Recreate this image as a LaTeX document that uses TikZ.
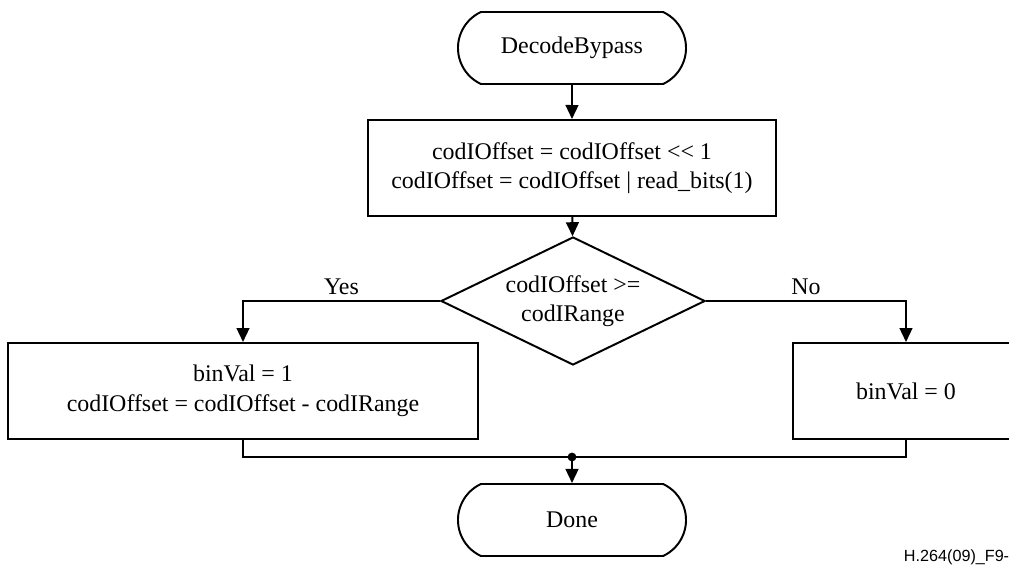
\documentclass[tikz,border=0pt]{standalone}
\usepackage{fontspec}
\setmainfont{Liberation Serif}
\newfontfamily\figfont{Liberation Sans}
\usepackage{tikz}
\usetikzlibrary{shapes.geometric, shapes.misc, arrows.meta, positioning}

\tikzset{
	terminal/.style={draw, rounded rectangle, rounded rectangle arc length=130, minimum width=5.7cm, minimum height=1.8cm, inner sep=0pt},
	process/.style={draw, rectangle, align=center, minimum height=2.4cm, inner sep=0pt},
	decision/.style={draw, diamond, aspect=2, align=center, minimum width=6.6cm, minimum height=3.2cm, inner sep=0pt}
}

\begin{document}
\begin{tikzpicture}[x=0.025cm, y=-0.025cm, > = {Triangle[length=3.5mm, width=3.2mm]}, line width=1.4pt, font=\fontsize{17}{21}\selectfont]
			\useasboundingbox (0,0) rectangle (1009,572);
			
			\node [terminal] (start) at (572,48) {DecodeBypass};
			\node [process, minimum width=10.2cm] (shift) at (572,168) {codIOffset = codIOffset {\textless}{\textless} 1\\codIOffset = codIOffset {\textbar} read\_bits(1)};
			\node [decision] (test) at (573,301) {codIOffset {\textgreater}=\\codIRange};
			\node [process, minimum width=11.75cm] (one) at (243,391) {binVal = 1\\codIOffset = codIOffset - codIRange};
			\node [process, minimum width=5.65cm] (zero) at (906,391) {binVal = 0};
			\node [terminal] (done) at (572,520) {Done};
			\coordinate (join) at (572,457);
			
			\draw [->] (start) -- (shift);
			\draw [->] (shift) -- (test);
			\draw [->] (test.west) -| node [pos=0.25, above, inner sep=4pt] {Yes} (one.north);
			\draw [->] (test.east) -| node [pos=0.25, above, inner sep=4pt] {No} (zero.north);
			\draw (one.south) |- (join) -| (zero.south);
			\fill (join) circle (0.11cm);
			\draw [->] (join) -- (done);
			
			\node [anchor=west, inner sep=0pt, font=\figfont\fontsize{11.5}{13}\selectfont] (tag) at (903,557) {H.264(09)\_F9-};
		\end{tikzpicture}
\end{document}
